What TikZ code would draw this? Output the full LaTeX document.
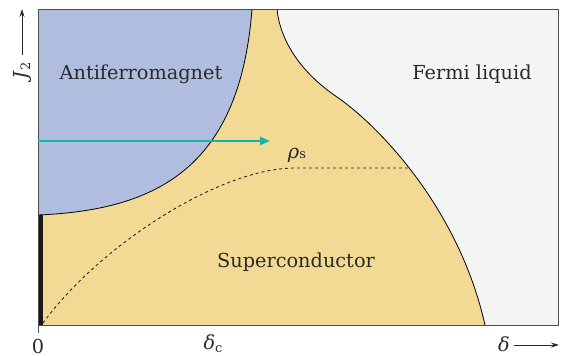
\documentclass[tikz,border=0pt]{standalone}
\usepackage{fontspec}
\setmainfont{DejaVu Serif}
\usetikzlibrary{arrows.meta}
\definecolor{afm}{HTML}{B0BDDE}
\definecolor{sc}{HTML}{F3DA94}
\definecolor{fl}{HTML}{F3F5F5}
\definecolor{frame}{HTML}{4D4D4D}
\definecolor{txt}{HTML}{2A2A2A}
\definecolor{teal}{HTML}{12B5A8}
\tikzset{
  lbl/.style={font=\fontsize{19.3}{21}\selectfont, text=txt, inner sep=0pt},
  bnd/.style={draw=black, line width=0.8pt},
  axarrow/.style={-{Stealth[length=8pt,width=5pt]}, line width=0.9pt, draw=txt},
}
\newcommand{\subfs}{\fontsize{13}{14}\selectfont}
\begin{document}
\begin{tikzpicture}[x=1pt,y=-1pt]
\useasboundingbox (0,0) rectangle (571,356);
% background Fermi liquid
\fill[fl] (38,9) rectangle (558,325);
% superconductor region
\fill[sc] (252,9) -- (277,9) .. controls (280,40) and (300,72) .. (337,97)
  .. controls (375,123) and (458,205) .. (485,325) -- (38,325) -- (38,215)
  .. controls (160,210) and (240,165) .. (252,9) -- cycle;
% antiferromagnet region
\fill[afm] (38,9) -- (252,9) .. controls (240,165) and (160,210) .. (38,215) -- cycle;
% boundaries
\draw[bnd] (38,215) .. controls (160,210) and (240,165) .. (252,9);
\draw[bnd] (277,9) .. controls (280,40) and (300,72) .. (337,97)
  .. controls (375,123) and (458,205) .. (485,325);
% rho_s dashed
\draw[black!85, line width=0.9pt, dash pattern=on 3pt off 3pt] (43,323) .. controls (100,245) and (220,168) .. (295,168) -- (411,168);
% black bar
\fill[black!90] (38,215) rectangle (43,325);
% frame
\draw[frame, line width=1pt] (38,9) rectangle (558,325);
\draw[frame, line width=1pt] (38,325) -- (38,333);
% teal arrow
\coordinate (ta) at (38,141);
\coordinate (tb) at (270,141);
\draw[teal, line width=2pt, -{Triangle[length=10pt,width=8pt]}] (ta) -- (tb);
% labels
\node[lbl] (afmL) at (141,74) {Antiferromagnet};
\node[lbl] (flL) at (472,74) {Fermi liquid};
\node[lbl] (scL) at (296,262) {Superconductor};
\node[lbl] (rho) at (297,155) {\textit{ρ}{\subfs s}};
\node[lbl] (zero) at (38,346) {0};
\node[lbl] (dc) at (213,344) {\textit{δ}\raisebox{-3pt}{\subfs c}};
\node[lbl] (d) at (504,344) {\textit{δ}};
\coordinate (da) at (514,345);
\coordinate (db) at (559,345);
\draw[axarrow] (da) -- (db);
\node[lbl, rotate=90] (J) at (22,71) {\textit{J}\raisebox{-3pt}{\subfs 2}};
\coordinate (ja) at (22,55);
\coordinate (jb) at (22,9);
\draw[axarrow] (ja) -- (jb);
\end{tikzpicture}
\end{document}
